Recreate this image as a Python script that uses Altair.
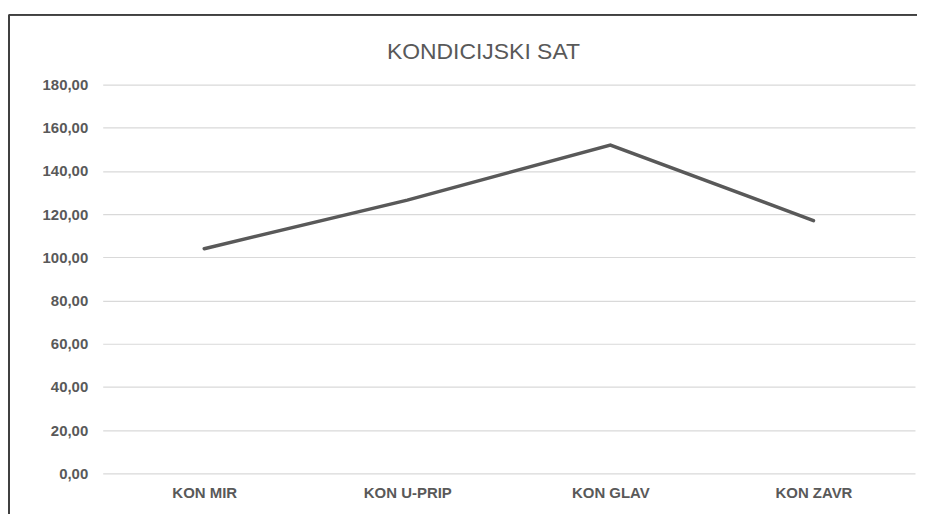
import altair as alt
import pandas as pd

categories = ["KON MIR", "KON U-PRIP", "KON GLAV", "KON ZAVR"]
values = [104.0, 126.5, 152.0, 117.0]
y_ticks = [0, 20, 40, 60, 80, 100, 120, 140, 160, 180]
title_text = ["KONDICIJSKI SAT"]

df = pd.DataFrame({"cat": categories, "val": values})

FONT = "Liberation Sans Narrow, Liberation Sans, DejaVu Sans Condensed, sans-serif"
GREY = "#595959"

base = alt.Chart(df)

line = base.mark_line(color=GREY, strokeWidth=3.5, strokeCap="round").encode(
    x=alt.X("cat:N", sort=categories, scale=alt.Scale(paddingInner=0, paddingOuter=0.5),
            axis=alt.Axis(title=None, labelAngle=0, ticks=False, domain=False, grid=False,
                          labelFont=FONT, labelFontSize=15, labelFontWeight="bold",
                          labelColor=GREY, labelPadding=12)),
    y=alt.Y("val:Q", scale=alt.Scale(domain=[0, 180], nice=False),
            axis=alt.Axis(title=None, values=y_ticks, ticks=False, domain=False,
                          grid=True, gridColor="#d9d9d9", gridWidth=1.2,
                          labelFont=FONT, labelFontSize=15, labelFontWeight="bold",
                          labelColor=GREY, labelPadding=15,
                          labelExpr="replace(format(datum.value, '.2f'), '.', ',')")),
)

top_border = base.mark_rule(stroke="#404040", strokeWidth=1.5).encode(
    x=alt.value(-94), x2=alt.value(830), y=alt.value(-70)
)
left_border = base.mark_rule(stroke="#404040", strokeWidth=1.5).encode(
    x=alt.value(-94), y=alt.value(-70), y2=alt.value(460)
)

title = alt.Chart(pd.DataFrame({"t": title_text})).mark_text(
    font=FONT, fontSize=23, color=GREY, align="center", baseline="alphabetic"
).encode(text="t:N", x=alt.value(382), y=alt.value(-26))

chart = alt.layer(top_border, left_border, title, line).properties(
    width=815,
    height=390,
    background="white",
    autosize=alt.AutoSizeParams(type="none"),
    padding={"left": 95, "top": 76, "right": 2, "bottom": 40},
).configure_view(strokeWidth=0, stroke="transparent")

chart.save("out.html", embed_options={"renderer": "svg", "actions": False})
